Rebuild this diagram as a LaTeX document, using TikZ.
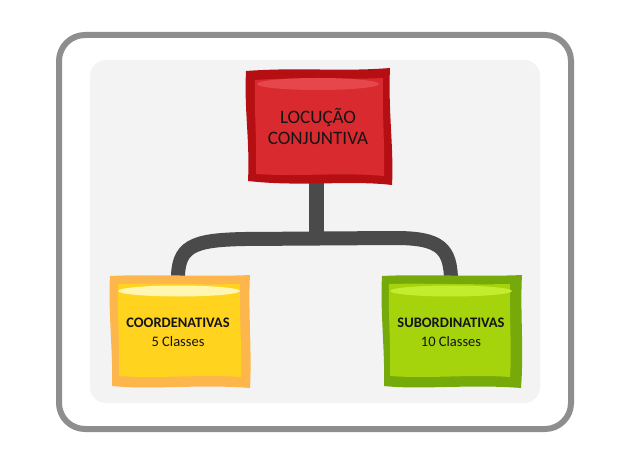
\documentclass[tikz,border=0pt]{standalone}
\usepackage{fontspec}
\setmainfont{Carlito}
\definecolor{framegray}{HTML}{8E8E8E}
\definecolor{panel}{HTML}{F3F3F3}
\definecolor{conn}{HTML}{4A4A4A}
\definecolor{redout}{HTML}{B50F13}
\definecolor{redin}{HTML}{D92A30}
\definecolor{redhi}{HTML}{E5474D}
\definecolor{yelout}{HTML}{FDB64C}
\definecolor{yelin}{HTML}{FFD31E}
\definecolor{yelhi}{HTML}{FFF6B2}
\definecolor{grnout}{HTML}{76AA0A}
\definecolor{grnin}{HTML}{A5D30C}
\definecolor{grnhi}{HTML}{C2EC2E}
\definecolor{txt}{HTML}{151515}
\tikzset{
  connector/.style={draw=conn,line width=15bp,line cap=butt},
  title/.style={font=\fontsize{19bp}{21bp}\selectfont,text=txt,align=center,inner sep=0pt},
  head/.style={font=\fontsize{14.5bp}{18bp}\selectfont\bfseries,text=txt,inner sep=0pt},
  sub/.style={font=\fontsize{14.5bp}{18bp}\selectfont,text=txt,inner sep=0pt},
}
\begin{document}
\begin{tikzpicture}[x=1bp,y=-1bp]
\useasboundingbox (0,0) rectangle (636,457);
\fill[white] (0,0) rectangle (636,457);
% outer frame
\draw[framegray,line width=6bp,rounded corners=26bp] (59,35) rectangle (571,429);
% panel
\fill[panel,rounded corners=16bp] (90,60) rectangle (540,403);

% anchors for connectors
\coordinate (redB) at (316,178);
\coordinate (joint) at (316,240);
\coordinate (yelT) at (178,282);
\coordinate (grnT) at (451,282);

% connectors
\draw[connector] (redB) -- (joint);
\draw[connector,line width=14bp] (yelT) .. controls (177,246) and (192,240) .. (245,239)
  -- (395,238) .. controls (440,238) and (451,248) .. (grnT);

% red box
\fill[redout] (246,71) .. controls (300,67) and (340,72) .. (390,68)
  .. controls (388,110) and (394,150) .. (392,185)
  .. controls (350,180) and (300,187) .. (248,181)
  .. controls (250,140) and (244,110) .. (246,71) -- cycle;
\fill[redin] (255,80) .. controls (300,77) and (340,80) .. (383,78)
  .. controls (382,110) and (385,150) .. (384,176)
  .. controls (340,172) and (300,177) .. (256,174)
  .. controls (257,140) and (254,110) .. (255,80) -- cycle;
\fill[redhi] (318,84) ellipse [x radius=61bp,y radius=6bp];
\node[title] (loc) at (318,127) {LOCUÇÃO\\CONJUNTIVA};

% yellow box
\fill[yelout] (110,276) .. controls (150,274) and (210,277) .. (250,275)
  .. controls (248,310) and (252,350) .. (250,388)
  .. controls (200,384) and (150,390) .. (112,386)
  .. controls (113,350) and (108,310) .. (110,276) -- cycle;
\fill[yelin] (118,284) .. controls (160,283) and (200,285) .. (240,284)
  .. controls (239,310) and (242,350) .. (241,377)
  .. controls (200,374) and (160,379) .. (119,376)
  .. controls (120,350) and (117,310) .. (118,284) -- cycle;
\fill[yelhi] (179,291) ellipse [x radius=61bp,y radius=5.5bp];
\node[head] (coord) at (178,323) {COORDENATIVAS};
\node[sub] (coordn) at (178,342) {5 Classes};

% green box
\fill[grnout] (382,276) .. controls (420,274) and (480,277) .. (522,275)
  .. controls (520,310) and (524,350) .. (521,388)
  .. controls (470,384) and (420,390) .. (384,386)
  .. controls (385,350) and (380,310) .. (382,276) -- cycle;
\fill[grnin] (389,284) .. controls (430,283) and (470,285) .. (510,284)
  .. controls (509,310) and (512,350) .. (510,377)
  .. controls (470,374) and (430,379) .. (390,376)
  .. controls (391,350) and (388,310) .. (389,284) -- cycle;
\fill[grnhi] (451,291) ellipse [x radius=61bp,y radius=5.5bp];
\node[head] (subo) at (451,323) {SUBORDINATIVAS};
\node[sub] (subon) at (451,342) {10 Classes};
\end{tikzpicture}
\end{document}
